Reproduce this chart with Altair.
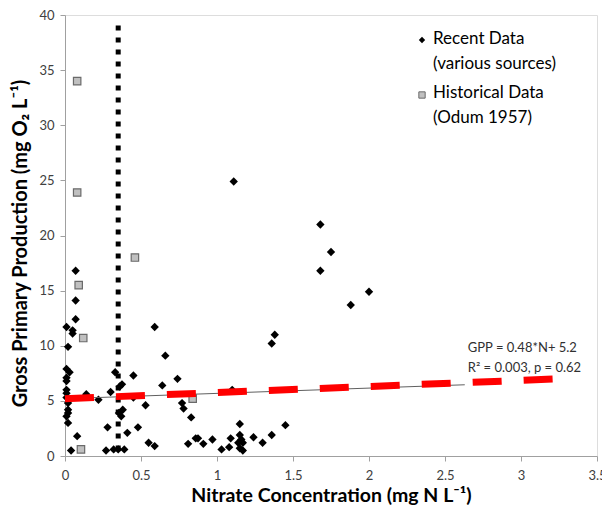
import altair as alt
import pandas as pd

# Recent data (various sources)
recent_x = [0.07, 0.07, 0.07, 0.01, 0.05, 0.05, 0.02, 0.01, 0.03, 0.01, 0.01, 0.01, 0.01, 0.01, 0.02, 0.02, 0.02, 0.01, 0.02, 0.08, 0.04,
            0.14, 0.22, 0.28, 0.27, 0.30, 0.33, 0.32, 0.35, 0.36, 0.375, 0.355, 0.37, 0.38, 0.39, 0.41, 0.45, 0.45, 0.48, 0.53, 0.55,
            0.59, 0.59, 0.66, 0.64, 0.74, 0.77, 0.78, 0.83, 0.81, 0.86, 0.875, 0.91, 0.97, 1.03, 1.08, 1.09, 1.15, 1.15, 1.16, 1.14,
            1.17, 1.15, 1.17, 1.24, 1.30, 1.36, 1.45, 1.10,
            1.11, 1.68, 1.75, 1.68, 2.00, 1.88, 1.38, 1.36]
recent_y = [16.8, 14.1, 12.4, 11.7, 11.4, 11.1, 9.9, 7.9, 7.6, 7.1, 6.8, 6.0, 5.7, 5.3, 4.8, 4.2, 3.9, 3.6, 3.0, 1.8, 0.5,
            5.6, 5.1, 2.6, 0.5, 5.8, 7.6, 0.6, 0.6, 6.3, 6.5, 3.9, 3.6, 4.2, 0.6, 2.1, 5.3, 7.3, 2.6, 4.6, 1.2,
            0.9, 11.7, 9.1, 6.4, 7.0, 4.8, 4.3, 3.5, 1.1, 1.6, 1.6, 1.1, 1.5, 0.6, 0.8, 1.6, 2.9, 1.9, 1.5, 1.2,
            1.2, 0.7, 0.5, 1.7, 1.2, 1.9, 2.8, 6.0,
            24.9, 21.0, 18.5, 16.8, 14.9, 13.7, 11.0, 10.2]

# Historical data (Odum 1957)
hist_x = [0.08, 0.08, 0.09, 0.12, 0.105, 0.46, 0.84]
hist_y = [34.0, 23.9, 15.5, 10.7, 0.6, 18.0, 5.2]

# Regression and threshold
fit_x = [0.0, 2.63]
fit_y = [5.2, 6.46]
red_x = [0.0, 3.25]
red_y = [5.2, 7.0]
thresh_x = [0.35]
thresh_y = [0.5]
thresh_y2 = [39.3]

eq_lines = ["GPP = 0.48*N+ 5.2", "R² = 0.003, p = 0.62"]
eq_x = [2.65, 2.65]
eq_y = [9.8, 8.0]

x_ticks = [0, 0.5, 1, 1.5, 2, 2.5, 3, 3.5]
y_ticks = [0, 5, 10, 15, 20, 25, 30, 35, 40]

legend_labels = ["Recent Data\n(various sources)", "Historical Data\n(Odum 1957)"]

FONT = "Lato"

xscale = alt.Scale(domain=[0, 3.5], nice=False, zero=False)
yscale = alt.Scale(domain=[0, 40], nice=False)

xaxis = alt.Axis(values=x_ticks, title="Nitrate Concentration (mg N L⁻¹)", labelExpr="datum.value + ''",
                 grid=False, domainColor="#a0a0a0", tickColor="#a0a0a0", tickSize=5,
                 labelFlush=False, labelOverlap=False,
                 labelFont=FONT, labelFontSize=13, labelColor="#404040", labelPadding=8,
                 titleFont=FONT, titleFontSize=19.5, titleFontWeight="bold", titleColor="#000000",
                 titlePadding=4)
yaxis = alt.Axis(values=y_ticks, title="Gross Primary Production (mg O₂ L⁻¹)", labelExpr="datum.value + ''",
                 grid=False, domainColor="#a0a0a0", tickColor="#a0a0a0", tickSize=5,
                 labelFlush=False, labelOverlap=False,
                 labelFont=FONT, labelFontSize=13, labelColor="#404040", labelPadding=6,
                 titleFont=FONT, titleFontSize=20, titleFontWeight="bold", titleColor="#000000",
                 titlePadding=8, titleY=228)

thr_df = pd.DataFrame({"x": thresh_x, "y": thresh_y, "y2": thresh_y2})
thresh = alt.Chart(thr_df).mark_rule(color="black", strokeWidth=5, strokeDash=[5, 7], strokeCap="butt").encode(
    x=alt.X("x:Q", scale=xscale, axis=xaxis),
    y=alt.Y("y:Q", scale=yscale, axis=yaxis),
    y2="y2:Q",
)

rec_df = pd.DataFrame({"x": recent_x, "y": recent_y})
recent = alt.Chart(rec_df).mark_point(shape="diamond", filled=True, color="black", size=70, opacity=1).encode(
    x=alt.X("x:Q", scale=xscale, axis=xaxis),
    y=alt.Y("y:Q", scale=yscale, axis=yaxis),
)

his_df = pd.DataFrame({"x": hist_x, "y": hist_y})
hist = alt.Chart(his_df).mark_point(shape="square", filled=True, fill="#c0c0c0", stroke="#6a6a6a",
                                    strokeWidth=1.2, size=55, opacity=1).encode(
    x="x:Q", y="y:Q",
)

fit_df = pd.DataFrame({"x": fit_x, "y": fit_y})
fit = alt.Chart(fit_df).mark_line(color="#606060", strokeWidth=1).encode(x="x:Q", y="y:Q")

red_df = pd.DataFrame({"x": red_x, "y": red_y})
red = alt.Chart(red_df).mark_line(color="#ff0000", strokeWidth=7, strokeDash=[29, 22], strokeCap="butt").encode(
    x="x:Q", y="y:Q")

eq_df = pd.DataFrame({"x": eq_x, "y": eq_y, "t": eq_lines})
eq = alt.Chart(eq_df).mark_text(align="left", baseline="middle", font=FONT, fontSize=13, color="#303030").encode(
    x="x:Q", y="y:Q", text="t:N")

leg_sym1 = alt.Chart(pd.DataFrame({"l": [legend_labels[0]]})).mark_point(
    shape="diamond", filled=True, color="black", size=40, opacity=1).encode(
    x=alt.value(357), y=alt.value(25))
leg_sym2 = alt.Chart(pd.DataFrame({"l": [legend_labels[1]]})).mark_point(
    shape="square", filled=True, fill="#c0c0c0", stroke="#6a6a6a", strokeWidth=1, size=40, opacity=1).encode(
    x=alt.value(357), y=alt.value(80))
leg_txt1 = alt.Chart(pd.DataFrame({"l": [legend_labels[0]]})).mark_text(
    align="left", baseline="middle", lineBreak="\n", lineHeight=25, font=FONT, fontSize=17, color="#000000").encode(
    x=alt.value(368), y=alt.value(24), text="l:N")
leg_txt2 = alt.Chart(pd.DataFrame({"l": [legend_labels[1]]})).mark_text(
    align="left", baseline="middle", lineBreak="\n", lineHeight=25, font=FONT, fontSize=17, color="#000000").encode(
    x=alt.value(368), y=alt.value(78), text="l:N")

chart = alt.layer(thresh, recent, hist, fit, red, eq, leg_sym1, leg_sym2, leg_txt1, leg_txt2).properties(
    width=532, height=441,
    autosize=alt.AutoSizeParams(type="none"),
    padding={"left": 65, "top": 15, "right": 5, "bottom": 51},
).configure_view(stroke=None).configure(background="white")

chart.save("out.html", embed_options={"renderer": "svg", "actions": False})
